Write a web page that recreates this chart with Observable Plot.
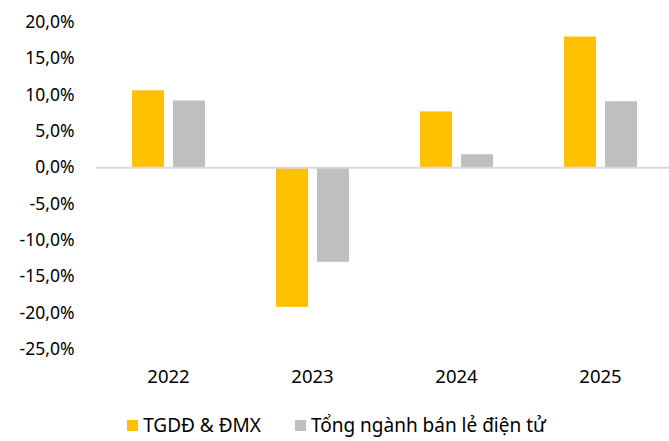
<!DOCTYPE html>
<html>
<head>
<meta charset="utf-8">
<script src="https://cdn.jsdelivr.net/npm/d3@7"></script>
<script src="https://cdn.jsdelivr.net/npm/@observablehq/plot@0.6"></script>
<style>
  body { margin: 0; background: #fff; font-family: "Noto Sans", sans-serif; }
  #chart { width: 669px; height: 395px; }
  .legend { display: flex; justify-content: center; align-items: center; gap: 34px; font-size: 19px; color: #000; height: 40px; margin-top: 10px; padding-left: 4px; }
  .legend span.item { display: flex; align-items: center; gap: 5px; }
  .legend span.sw { width: 11px; height: 11px; display: inline-block; }
</style>
</head>
<body>
<div id="chart"></div>
<script>
const years = ["2022", "2023", "2024", "2025"];
const seriesNames = ["TGDĐ & ĐMX", "Tổng ngành bán lẻ điện tử"];
const tgddValues = [10.6, -19.2, 7.7, 18.0];
const industryValues = [9.2, -13.0, 1.8, 9.1];
const yTicks = [-25, -20, -15, -10, -5, 0, 5, 10, 15, 20];
const colors = ["#FFC000", "#BFBFBF"];

const data = [];
years.forEach((y, i) => {
  data.push({year: y, series: seriesNames[0], value: tgddValues[i]});
  data.push({year: y, series: seriesNames[1], value: industryValues[i]});
});

const fmt = d => d.toFixed(1).replace(".", ",") + "%";

const chart = Plot.plot({
  width: 669,
  height: 395,
  marginLeft: 95,
  marginRight: -4,
  marginTop: 22,
  marginBottom: 46,
  style: {fontFamily: "Noto Sans, sans-serif", fontSize: "17px", color: "#000", background: "#fff", overflow: "visible"},
  fx: {domain: years, padding: 0, label: null, axis: null},
  x: {domain: seriesNames, paddingInner: 0.22, paddingOuter: 0.85, axis: null},
  y: {domain: [-25, 20], ticks: yTicks, label: null, axis: null},
  color: {domain: seriesNames, range: colors},
  marks: [
    Plot.axisY({ticks: yTicks, tickSize: 0, tickPadding: 22, tickFormat: fmt, label: null, fontSize: 17.5}),
    Plot.axisFx({anchor: "bottom", tickSize: 0, tickPadding: 20, label: null, fontSize: 18.5}),
    Plot.barY(data, {fx: "year", x: "series", y: "value", fill: "series"}),
    Plot.ruleY([0], {stroke: "#D9D9D9", strokeWidth: 2})
  ]
});
document.getElementById("chart").appendChild(chart);

const legend = document.createElement("div");
legend.className = "legend";
seriesNames.forEach((s, i) => {
  const item = document.createElement("span");
  item.className = "item";
  const sw = document.createElement("span");
  sw.className = "sw";
  sw.style.background = colors[i];
  item.appendChild(sw);
  item.appendChild(document.createTextNode(s));
  legend.appendChild(item);
});
document.body.appendChild(legend);
</script>
</body>
</html>
